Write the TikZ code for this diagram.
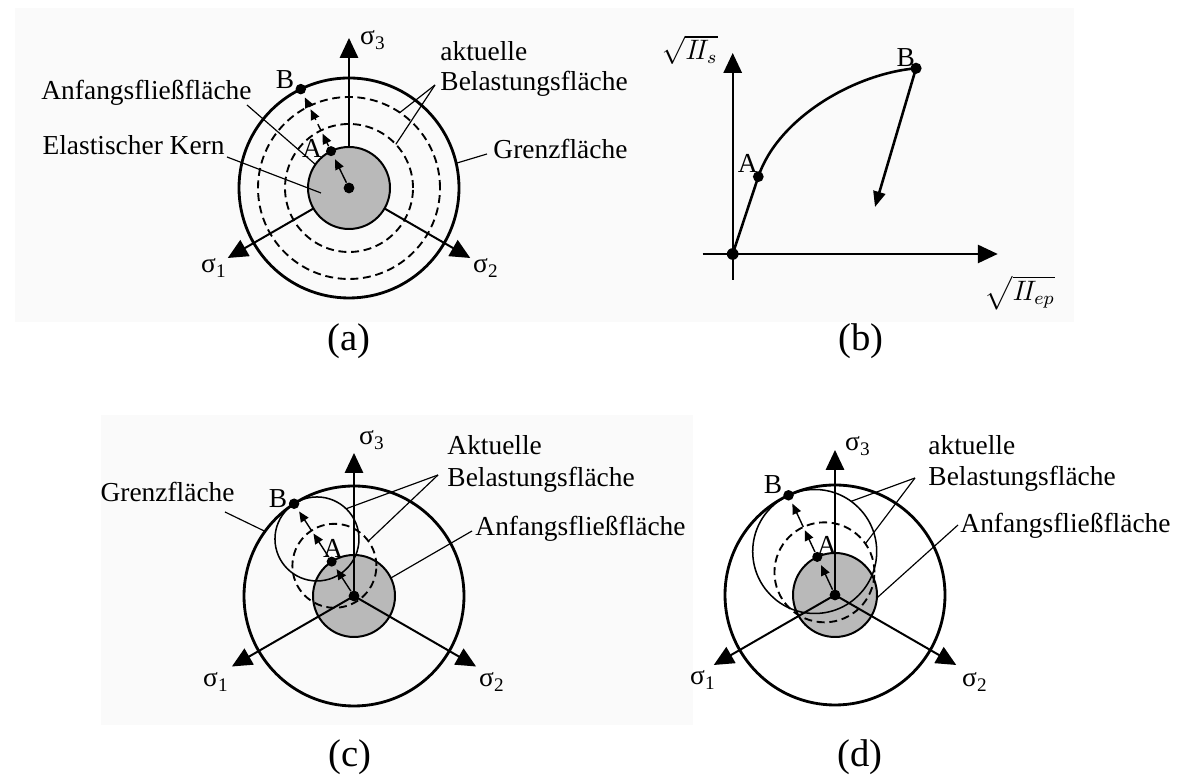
\documentclass[tikz,border=0pt]{standalone}
\usepackage{fontspec}
\setmainfont{Liberation Serif}
\usepackage{amsmath}
\usepackage{tikz}
\usetikzlibrary{arrows.meta, positioning, calc}

\begin{document}
\begin{tikzpicture}[
        x=0.015cm, y=0.015cm,
        lbl/.style={font=\fontsize{11.7}{13.2}\selectfont, inner sep=0pt},
        titel/.style={font=\fontsize{16.5}{18}\selectfont, inner sep=0pt},
        axis/.style={line width=0.85pt, -{Triangle[length=8.5pt, width=7.8pt]}},
        grenz/.style={line width=1.2pt},
        belast/.style={line width=0.8pt, dash pattern=on 3.4pt off 2pt},
        aktuell/.style={line width=0.65pt},
        kern/.style={line width=0.85pt, fill=gray!55},
        lead/.style={line width=0.5pt},
        pfad/.style={line width=0.6pt, -{Triangle[length=4.4pt, width=3.8pt]}, shorten >=1.5pt},
        kurve/.style={line width=1.1pt},
        dot/.style={circle, fill=black, inner sep=0pt, minimum size=4.3pt},
        bg/.style={fill=black!2, draw=none}
    ]
    \useasboundingbox (0,0) rectangle (1180,775);

    % Backgrounds
    \fill[bg] (15,453) rectangle (1074,767);
    \fill[bg] (101,50) rectangle (693,360);

    % (a)
    \begin{scope}[shift={(349,587)}]
    \draw[kern] (0,0) circle (41);
    \draw[belast] (0,0) circle (64);
    \draw[belast] (0,0) circle (91);
    \draw[grenz] (0,0) circle (110);

    \coordinate (a3s) at (90:41);   \coordinate (a3e) at (90:150);
    \coordinate (a1s) at (210:41);  \coordinate (a1e) at (210:140);
    \coordinate (a2s) at (330:41);  \coordinate (a2e) at (330:140);
    \draw[axis] (a3s) -- (a3e);
    \draw[axis] (a1s) -- (a1e);
    \draw[axis] (a2s) -- (a2e);
    \node[lbl] (as3) at (24,148) {σ\textsubscript{3}};
    \node[lbl] (as1) at (-135,-80) {σ\textsubscript{1}};
    \node[lbl] (as2) at (137,-80) {σ\textsubscript{2}};

    % Nodes
    \node[dot, minimum size=4.6pt] (aO) at (0,0) {};
    \node[dot] (aA) at (116:41) {};
    \node[dot, minimum size=4.5pt] (aB) at (116:110) {};
    \coordinate (aP1) at (116:64);
    \coordinate (aP2) at (116:91);
    \node[lbl] (aAl) at (-37,40) {A};
    \node[lbl] (aBl) at (-64,108) {B};

    % Edges
    \draw[pfad] (aO) -- (aA);
    \draw[pfad, densely dashed] (aA) -- (aP1);
    \draw[pfad, densely dashed] (aP1) -- (aP2);
    \draw[pfad, densely dashed] (aP2) -- (aB);

    % Labels
    \node[lbl, anchor=base east] (aanf) at (-97,88) {Anfangsfließfläche};
    \node[lbl, anchor=base east] (akern) at (-124,33) {Elastischer Kern};
    \node[lbl, anchor=base west] (agrenz) at (144,29) {Grenzfläche};
    \node[lbl, anchor=base west] (aakt1) at (91,127) {aktuelle};
    \node[lbl, anchor=base west] (aakt2) at (91,97) {Belastungsfläche};

    \coordinate (aanfs) at (-102,83);  \coordinate (aanfe) at (145:41);
    \coordinate (akerns) at (-122,31); \coordinate (akerne) at (-28,-5);
    \coordinate (agrs) at (138,34);    \coordinate (agre) at (13:110);
    \coordinate (aaktc) at (86,103);
    \coordinate (aakt1e) at (56:91);   \coordinate (aakt2e) at (43:64);
    \draw[lead] (aanfs) -- (aanfe);
    \draw[lead] (akerns) -- (akerne);
    \draw[lead] (agrs) -- (agre);
    \draw[lead] (aaktc) -- (aakt1e);
    \draw[lead] (aaktc) -- (aakt2e);
    \end{scope}

    % (b)
    \begin{scope}[shift={(732.7,521)}]
    \coordinate (bys) at (0,-26);  \coordinate (bye) at (0,201);
    \coordinate (bxs) at (-30,0);  \coordinate (bxe) at (265,0);
    \draw[axis] (bys) -- (bye);
    \draw[axis] (bxs) -- (bxe);

    \node[dot, minimum size=5pt] (bO) at (0,0) {};
    \node[dot, minimum size=4.6pt] (bA) at (25.6,77.3) {};
    \node[dot, minimum size=4.8pt] (bB) at (183.3,185.7) {};
    \coordinate (bE) at (142.3,47);
    \draw[kurve] (bO.center) -- (bA.center) .. controls (45,135) and (120,180) .. (bB.center);
    \draw[kurve, -{Triangle[length=6.6pt, width=5.2pt]}] (bB.center) -- (bE);

    \node[lbl] (bAl) at (15,91) {A};
    \node[lbl] (bBl) at (173,196) {B};
    \node[lbl] (byl) at (-43,204) {$\sqrt{I\!I_s}$};
    \node[lbl] (bxl) at (287,-39) {$\sqrt{I\!I_{ep}}$};
    \end{scope}

    % (c)
    \begin{scope}[shift={(354,179)}]
    \coordinate (cd) at (123:36);
    \coordinate (cs) at (123:68);
    \draw[kern] (0,0) circle (41);
    \draw[belast] (cd) circle (42);
    \draw[aktuell] (cs) circle (42);
    \draw[grenz] (0,0) circle (110);

    \node[dot, minimum size=4.6pt] (cO) at (0,0) {};
    \coordinate (c3e) at (90:143);
    \coordinate (c1e) at (210:141);
    \coordinate (c2e) at (330:141);
    \draw[axis] (cO.center) -- (c3e);
    \draw[axis] (cO.center) -- (c1e);
    \draw[axis] (cO.center) -- (c2e);
    \node[lbl] (cs3) at (18,156) {σ\textsubscript{3}};
    \node[lbl] (cs1) at (-138,-86) {σ\textsubscript{1}};
    \node[lbl] (cs2) at (138,-86) {σ\textsubscript{2}};

    \node[dot] (cA) at (123:41) {};
    \node[dot, minimum size=4.5pt] (cB) at (123:110) {};
    \coordinate (cP1) at (123:78);
    \node[lbl] (cAl) at (-21,48) {A};
    \node[lbl] (cBl) at (-76,97) {B};
    \draw[pfad] (cO) -- (cA);
    \draw[pfad] (cA) -- (cP1);
    \draw[pfad] (cP1) -- (cB);

    \node[lbl, anchor=base east] (cgrenz) at (-119,94) {Grenzfläche};
    \node[lbl, anchor=base west] (cakt1) at (93,141) {Aktuelle};
    \node[lbl, anchor=base west] (cakt2) at (93,109) {Belastungsfläche};
    \node[lbl, anchor=base west] (canf) at (121,60) {Anfangsfließfläche};

    \coordinate (cgrs) at (-129,84);  \coordinate (cgre) at (144:110);
    \coordinate (caktc) at (84,121);
    \coordinate (cakt1e) at ($(cs)+(46:42)$);
    \coordinate (cakt2e) at ($(cd)+(36:42)$);
    \coordinate (canfs) at (118,65);  \coordinate (canfe) at (26:41);
    \draw[lead] (cgrs) -- (cgre);
    \draw[lead] (caktc) -- (cakt1e);
    \draw[lead] (caktc) -- (cakt2e);
    \draw[lead] (canfs) -- (canfe);
    \end{scope}

    % (d)
    \begin{scope}[shift={(835,180)}]
    \coordinate (dd) at (115:25);
    \coordinate (ds) at (115:48);
    \draw[kern] (0,0) circle (42);
    \draw[belast] (dd) circle (50);
    \draw[aktuell] (ds) circle (62);
    \draw[grenz] (0,0) circle (110);

    \node[dot, minimum size=4.6pt] (dO) at (0,0) {};
    \coordinate (d3e) at (90:145);
    \coordinate (d1e) at (210:140);
    \coordinate (d2e) at (330:140);
    \draw[axis] (dO.center) -- (d3e);
    \draw[axis] (dO.center) -- (d1e);
    \draw[axis] (dO.center) -- (d2e);
    \node[lbl] (ds3) at (23,149) {σ\textsubscript{3}};
    \node[lbl] (ds1) at (-132,-85) {σ\textsubscript{1}};
    \node[lbl] (ds2) at (140,-87) {σ\textsubscript{2}};

    \node[dot] (dA) at (115:42) {};
    \node[dot, minimum size=4.5pt] (dB) at (115:110) {};
    \coordinate (dP1) at (115:75);
    \node[lbl] (dAl) at (-8,50) {A};
    \node[lbl] (dBl) at (-62,110) {B};
    \draw[pfad] (dO) -- (dA);
    \draw[pfad] (dA) -- (dP1);
    \draw[pfad] (dP1) -- (dB);

    \node[lbl, anchor=base west] (dakt1) at (93,140) {aktuelle};
    \node[lbl, anchor=base west] (dakt2) at (93,109) {Belastungsfläche};
    \node[lbl, anchor=base west] (danf) at (125,62) {Anfangsfließfläche};

    \coordinate (daktc) at (80,117);
    \coordinate (dakt1e) at ($(ds)+(54:62)$);
    \coordinate (dakt2e) at ($(dd)+(35:50)$);
    \coordinate (danfs) at (123,70);  \coordinate (danfe) at (-4:42);
    \draw[lead] (daktc) -- (dakt1e);
    \draw[lead] (daktc) -- (dakt2e);
    \draw[lead] (danfs) -- (danfe);
    \end{scope}

    % Captions
    \node[titel] (capa) at (349,434) {(a)};
    \node[titel] (capb) at (861,434) {(b)};
    \node[titel] (capc) at (350,18) {(c)};
    \node[titel] (capd) at (860,18) {(d)};

\end{tikzpicture}
\end{document}
